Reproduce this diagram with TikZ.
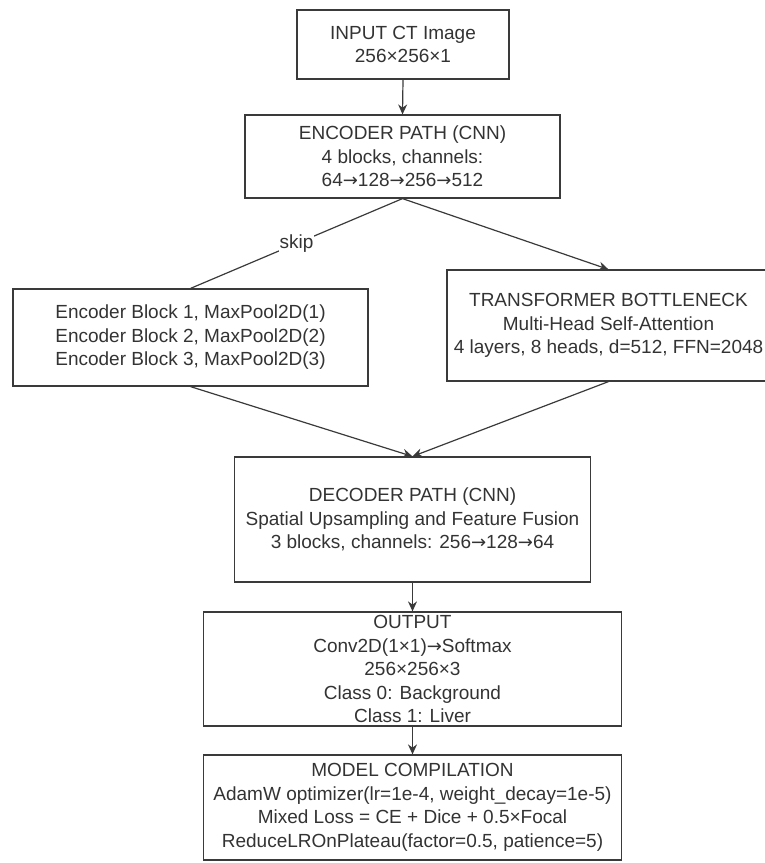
\documentclass[tikz,border=0pt]{standalone}
\usepackage{fontspec}
\setmainfont{Liberation Sans}
\newfontfamily\arrfont{DejaVu Sans}[Scale=0.95]
\newcommand\myarr{{\arrfont →}}
\usetikzlibrary{arrows.meta}
\definecolor{ink}{HTML}{333333}
\definecolor{edge}{HTML}{3A3A3A}
\tikzset{
  blk/.style={draw=edge, line width=1.2pt, rectangle, inner sep=0pt, align=center,
    text=ink, font=\fontsize{19}{23.5}\selectfont},
  conn/.style={draw=edge, line width=1.2pt},
  arr/.style={conn, -{Stealth[length=10pt,width=9pt]}},
  lbl/.style={fill=white, inner sep=1pt, text=ink, font=\fontsize{19}{23.5}\selectfont}
}
\begin{document}
\begin{tikzpicture}[x=1pt,y=-1pt]
\useasboundingbox (0,0) rectangle (764,863);
\node[blk, minimum width=212pt, minimum height=69pt] (inp) at (403,44.5)
  {INPUT CT Image\\256×256×1};
\node[blk, minimum width=315pt, minimum height=83pt] (enc) at (402.5,156.5)
  {ENCODER PATH (CNN)\\4 blocks, channels:\\64\myarr128\myarr256\myarr512};
\node[blk, minimum width=355pt, minimum height=97pt] (left) at (190.5,337.5)
  {Encoder Block 1, MaxPool2D(1)\\Encoder Block 2, MaxPool2D(2)\\Encoder Block 3, MaxPool2D(3)};
\node[blk, minimum width=323pt, minimum height=111pt] (trans) at (608.5,325.5)
  {TRANSFORMER BOTTLENECK\\Multi-Head Self-Attention\\4 layers, 8 heads, d=512, FFN=2048};
\node[blk, minimum width=356pt, minimum height=125pt] (dec) at (412.5,519.5)
  {DECODER PATH (CNN)\\Spatial Upsampling and Feature Fusion\\3 blocks, channels: 256\myarr128\myarr64};
\node[blk, minimum width=418pt, minimum height=114pt] (out) at (412.5,669)
  {OUTPUT\\Conv2D(1×1)\myarr Softmax\\256×256×3\\Class 0: Background\\Class 1: Liver};
\node[blk, minimum width=418pt, minimum height=105pt] (comp) at (412.5,807.5)
  {MODEL COMPILATION\\AdamW optimizer(lr=1e-4, weight\_decay=1e-5)\\Mixed Loss = CE + Dice + 0.5×Focal\\ReduceLROnPlateau(factor=0.5, patience=5)};
\draw[arr] (inp.south) -- (enc.north);
\draw[conn] (enc.south) -- node[lbl, pos=0.5] {skip} (left.north);
\draw[arr] (enc.south) -- (trans.north);
\draw[arr] (left.south) -- (dec.north);
\draw[arr] (trans.south) -- (dec.north);
\draw[arr] (dec.south) -- (out.north);
\draw[arr] (out.south) -- (comp.north);
\end{tikzpicture}
\end{document}
